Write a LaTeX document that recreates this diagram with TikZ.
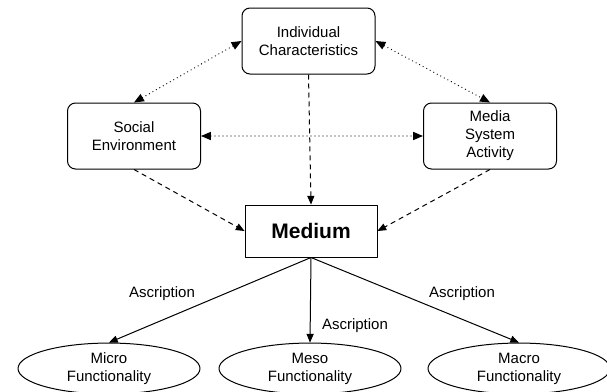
\documentclass[tikz,border=0pt]{standalone}
\usepackage{fontspec}
\setmainfont{Liberation Sans}
\usetikzlibrary{arrows}
\usetikzlibrary{shapes.geometric}

\newcommand{\lowtext}[1]{\raisebox{-3pt}{\begin{tabular}{@{}c@{}}#1\end{tabular}}}

\begin{document}
\begin{tikzpicture}[line cap=round,line join=round,>=triangle 45,x=1pt,y=-1pt,
	every node/.style={font=\fontsize{15}{18}\selectfont, align=center, inner sep=0pt},
	factorbox/.style={draw, line width=1pt, rounded corners=8pt, minimum width=133pt, minimum height=66pt},
	mediumbox/.style={draw, line width=1pt, minimum width=132pt, minimum height=52pt, font=\fontsize{21}{24}\selectfont\bfseries},
	levelell/.style={draw, ellipse, line width=1pt, minimum width=182pt, minimum height=43pt},
	mutual/.style={<->, line width=1.3pt, dash pattern=on 0pt off 4pt},
	influence/.style={->, line width=1pt, dash pattern=on 5pt off 4pt, line cap=butt},
	ascribe/.style={->, line width=1pt}]

		\useasboundingbox (0,0) rectangle (607,391);

		%tekijat
		\node[factorbox] (indiv) at (308.5,41) {Individual\\Characteristics};
		\node[factorbox] (social) at (134,136) {Social\\Environment};
		\node[factorbox] (media) at (490,136) {Media\\System\\Activity};

		%medium
		\node[mediumbox] (medium) at (311,231) {Medium};

		%funktionaalisuus
		\node[levelell] (micro) at (109,368.5) {\lowtext{Micro\\Functionality}};
		\node[levelell] (meso) at (310,368.5) {\lowtext{Meso\\Functionality}};
		\node[levelell] (macro) at (519,368.5) {\lowtext{Macro\\Functionality}};

		% vuorovaikutus (pisteviivat)
		\draw[mutual] (indiv.west)--(social.north);
		\draw[mutual] (indiv.east)--(media.north);
		\draw[mutual] (social.east)--(media.west);

		% vaikutus mediumiin (katkoviivat)
		\draw[influence] (indiv.south)--(medium.north);
		\draw[influence] (social.south)--(medium.west);
		\draw[influence] (media.south)--(medium.east);

		% ascription
		\draw[ascribe] (medium.south)--(micro.north);
		\draw[ascribe] (medium.south)--(meso.north);
		\draw[ascribe] (medium.south)--(macro.north);

		\node (asc1) at (162,294) {Ascription};
		\node (asc2) at (355,326) {Ascription};
		\node (asc3) at (462,294) {Ascription};

	\end{tikzpicture}
\end{document}
